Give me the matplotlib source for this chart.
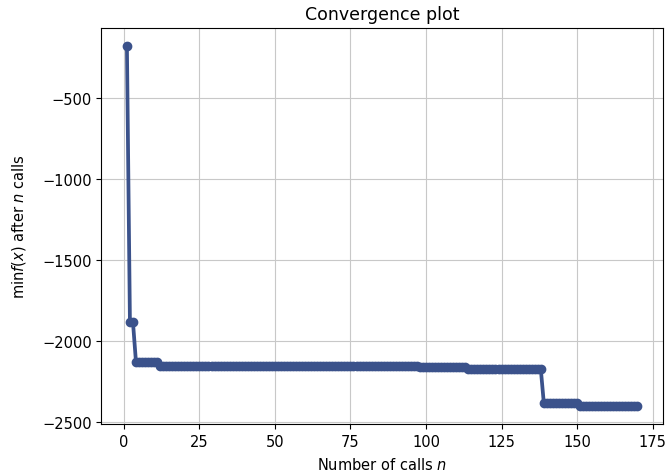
import matplotlib
matplotlib.use("Agg")
import matplotlib.pyplot as plt
import numpy as np

# best value found so far as (first call, value) steps
step_start = [1, 2, 4, 12, 98, 114, 139, 151]
step_value = [-177, -1883, -2130, -2152, -2159, -2173, -2383, -2401]
n_calls = 170

# expand the steps to one value per call
calls = np.arange(1, n_calls + 1)
mins = []
for n in calls:
    k = max(i for i, s in enumerate(step_start) if s <= n)
    mins.append(step_value[k])

color = plt.cm.viridis(0.25)

fig = plt.figure(figsize=(6.67, 4.77), dpi=100)
ax = fig.add_axes([0.152, 0.109, 0.842, 0.831])

ax.set_title("Convergence plot", fontsize=12.5)
ax.set_xlabel("Number of calls $n$", fontsize=10.5, labelpad=5)
ax.set_ylabel(r"$\min f(x)$ after $n$ calls", fontsize=10.5, labelpad=10)
ax.grid(color="#c8c8c8")
ax.plot(calls, mins, c=color, marker=".", markersize=12, lw=2.7)
ax.set_yticks([-2500, -2000, -1500, -1000, -500])
ax.tick_params(labelsize=10.5)

fig.savefig("out.png", dpi=100)
